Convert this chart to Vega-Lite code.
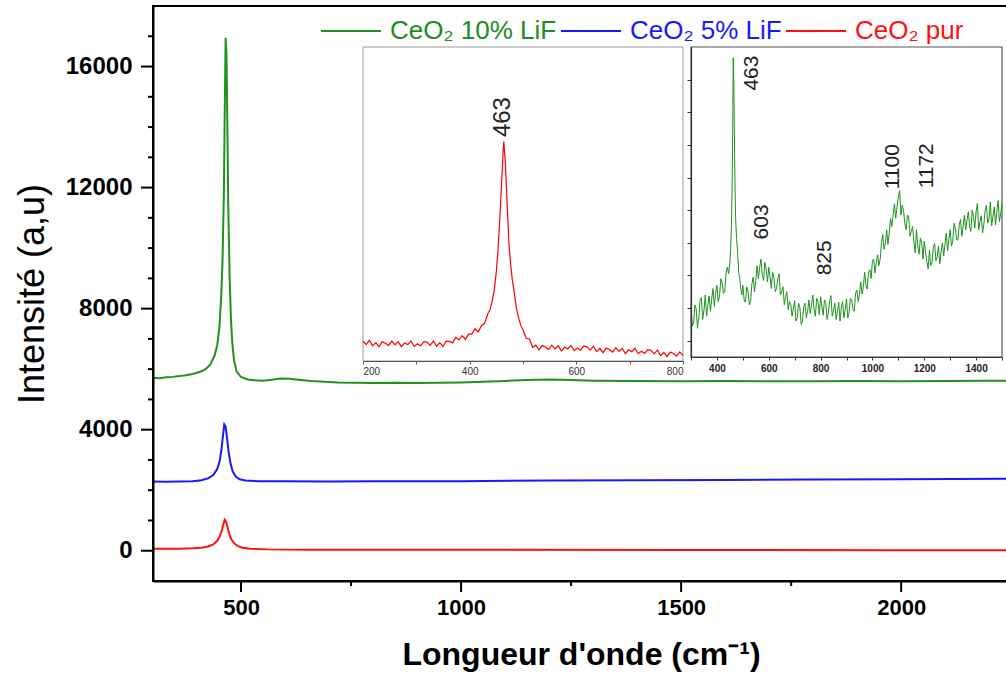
{
  "$schema": "https://vega.github.io/schema/vega-lite/v6.json",
  "width": 856,
  "height": 575,
  "autosize": {"type": "none"},
  "padding": {"left": 153, "top": 6, "right": 0, "bottom": 96},
  "background": "white",
  "config": {
    "font": "Liberation Sans",
    "view": {"stroke": "black", "strokeWidth": 2},
    "axis": {"grid": false}
  },
  "datasets": {
    "main": [
      {"w": 300, "i": 5720, "s": "CeO₂ 10% LiF"}, {"w": 315, "i": 5700, "s": "CeO₂ 10% LiF"}, {"w": 330, "i": 5735, "s": "CeO₂ 10% LiF"}, {"w": 345, "i": 5745, "s": "CeO₂ 10% LiF"}, {"w": 360, "i": 5770, "s": "CeO₂ 10% LiF"}, {"w": 375, "i": 5800, "s": "CeO₂ 10% LiF"}, {"w": 390, "i": 5840, "s": "CeO₂ 10% LiF"}, {"w": 400, "i": 5880, "s": "CeO₂ 10% LiF"}, {"w": 410, "i": 5930, "s": "CeO₂ 10% LiF"}, {"w": 420, "i": 6010, "s": "CeO₂ 10% LiF"}, {"w": 430, "i": 6150, "s": "CeO₂ 10% LiF"}, {"w": 440, "i": 6450, "s": "CeO₂ 10% LiF"}, {"w": 446, "i": 6800, "s": "CeO₂ 10% LiF"}, {"w": 451, "i": 7400, "s": "CeO₂ 10% LiF"}, {"w": 455, "i": 8400, "s": "CeO₂ 10% LiF"}, {"w": 458, "i": 9600, "s": "CeO₂ 10% LiF"}, {"w": 461, "i": 11800, "s": "CeO₂ 10% LiF"}, {"w": 463, "i": 14500, "s": "CeO₂ 10% LiF"}, {"w": 465, "i": 16950, "s": "CeO₂ 10% LiF"}, {"w": 467, "i": 16400, "s": "CeO₂ 10% LiF"}, {"w": 469, "i": 14000, "s": "CeO₂ 10% LiF"}, {"w": 471, "i": 11400, "s": "CeO₂ 10% LiF"}, {"w": 474, "i": 9100, "s": "CeO₂ 10% LiF"}, {"w": 477, "i": 7700, "s": "CeO₂ 10% LiF"}, {"w": 480, "i": 6900, "s": "CeO₂ 10% LiF"}, {"w": 484, "i": 6300, "s": "CeO₂ 10% LiF"}, {"w": 490, "i": 5920, "s": "CeO₂ 10% LiF"}, {"w": 500, "i": 5740, "s": "CeO₂ 10% LiF"}, {"w": 515, "i": 5660, "s": "CeO₂ 10% LiF"}, {"w": 530, "i": 5630, "s": "CeO₂ 10% LiF"}, {"w": 550, "i": 5620, "s": "CeO₂ 10% LiF"}, {"w": 570, "i": 5650, "s": "CeO₂ 10% LiF"}, {"w": 590, "i": 5690, "s": "CeO₂ 10% LiF"}, {"w": 610, "i": 5680, "s": "CeO₂ 10% LiF"}, {"w": 630, "i": 5650, "s": "CeO₂ 10% LiF"}, {"w": 660, "i": 5610, "s": "CeO₂ 10% LiF"}, {"w": 690, "i": 5580, "s": "CeO₂ 10% LiF"}, {"w": 720, "i": 5560, "s": "CeO₂ 10% LiF"}, {"w": 760, "i": 5550, "s": "CeO₂ 10% LiF"}, {"w": 800, "i": 5540, "s": "CeO₂ 10% LiF"}, {"w": 850, "i": 5550, "s": "CeO₂ 10% LiF"}, {"w": 900, "i": 5540, "s": "CeO₂ 10% LiF"}, {"w": 950, "i": 5550, "s": "CeO₂ 10% LiF"}, {"w": 1000, "i": 5560, "s": "CeO₂ 10% LiF"}, {"w": 1050, "i": 5580, "s": "CeO₂ 10% LiF"}, {"w": 1100, "i": 5610, "s": "CeO₂ 10% LiF"}, {"w": 1150, "i": 5640, "s": "CeO₂ 10% LiF"}, {"w": 1200, "i": 5660, "s": "CeO₂ 10% LiF"}, {"w": 1250, "i": 5640, "s": "CeO₂ 10% LiF"}, {"w": 1300, "i": 5620, "s": "CeO₂ 10% LiF"}, {"w": 1400, "i": 5610, "s": "CeO₂ 10% LiF"}, {"w": 1500, "i": 5600, "s": "CeO₂ 10% LiF"}, {"w": 1600, "i": 5610, "s": "CeO₂ 10% LiF"}, {"w": 1700, "i": 5600, "s": "CeO₂ 10% LiF"}, {"w": 1800, "i": 5600, "s": "CeO₂ 10% LiF"}, {"w": 1900, "i": 5610, "s": "CeO₂ 10% LiF"}, {"w": 2000, "i": 5600, "s": "CeO₂ 10% LiF"}, {"w": 2100, "i": 5610, "s": "CeO₂ 10% LiF"}, {"w": 2200, "i": 5620, "s": "CeO₂ 10% LiF"}, {"w": 2245, "i": 5620, "s": "CeO₂ 10% LiF"},
      {"w": 300, "i": 2285, "s": "CeO₂ 5% LiF"}, {"w": 330, "i": 2280, "s": "CeO₂ 5% LiF"}, {"w": 360, "i": 2290, "s": "CeO₂ 5% LiF"}, {"w": 390, "i": 2300, "s": "CeO₂ 5% LiF"}, {"w": 410, "i": 2330, "s": "CeO₂ 5% LiF"}, {"w": 425, "i": 2390, "s": "CeO₂ 5% LiF"}, {"w": 437, "i": 2500, "s": "CeO₂ 5% LiF"}, {"w": 446, "i": 2700, "s": "CeO₂ 5% LiF"}, {"w": 452, "i": 3000, "s": "CeO₂ 5% LiF"}, {"w": 456, "i": 3400, "s": "CeO₂ 5% LiF"}, {"w": 459, "i": 3800, "s": "CeO₂ 5% LiF"}, {"w": 462, "i": 4170, "s": "CeO₂ 5% LiF"}, {"w": 465, "i": 4100, "s": "CeO₂ 5% LiF"}, {"w": 468, "i": 3750, "s": "CeO₂ 5% LiF"}, {"w": 472, "i": 3250, "s": "CeO₂ 5% LiF"}, {"w": 476, "i": 2900, "s": "CeO₂ 5% LiF"}, {"w": 481, "i": 2620, "s": "CeO₂ 5% LiF"}, {"w": 488, "i": 2450, "s": "CeO₂ 5% LiF"}, {"w": 497, "i": 2360, "s": "CeO₂ 5% LiF"}, {"w": 510, "i": 2320, "s": "CeO₂ 5% LiF"}, {"w": 540, "i": 2300, "s": "CeO₂ 5% LiF"}, {"w": 600, "i": 2295, "s": "CeO₂ 5% LiF"}, {"w": 700, "i": 2290, "s": "CeO₂ 5% LiF"}, {"w": 800, "i": 2295, "s": "CeO₂ 5% LiF"}, {"w": 1000, "i": 2300, "s": "CeO₂ 5% LiF"}, {"w": 1200, "i": 2320, "s": "CeO₂ 5% LiF"}, {"w": 1400, "i": 2330, "s": "CeO₂ 5% LiF"}, {"w": 1600, "i": 2340, "s": "CeO₂ 5% LiF"}, {"w": 1800, "i": 2350, "s": "CeO₂ 5% LiF"}, {"w": 2000, "i": 2360, "s": "CeO₂ 5% LiF"}, {"w": 2245, "i": 2375, "s": "CeO₂ 5% LiF"},
      {"w": 300, "i": 66, "s": "CeO₂ pur"}, {"w": 330, "i": 62, "s": "CeO₂ pur"}, {"w": 360, "i": 68, "s": "CeO₂ pur"}, {"w": 390, "i": 80, "s": "CeO₂ pur"}, {"w": 410, "i": 100, "s": "CeO₂ pur"}, {"w": 425, "i": 140, "s": "CeO₂ pur"}, {"w": 437, "i": 210, "s": "CeO₂ pur"}, {"w": 446, "i": 330, "s": "CeO₂ pur"}, {"w": 452, "i": 480, "s": "CeO₂ pur"}, {"w": 457, "i": 700, "s": "CeO₂ pur"}, {"w": 460, "i": 880, "s": "CeO₂ pur"}, {"w": 463, "i": 1025, "s": "CeO₂ pur"}, {"w": 466, "i": 960, "s": "CeO₂ pur"}, {"w": 469, "i": 800, "s": "CeO₂ pur"}, {"w": 473, "i": 560, "s": "CeO₂ pur"}, {"w": 478, "i": 380, "s": "CeO₂ pur"}, {"w": 484, "i": 250, "s": "CeO₂ pur"}, {"w": 492, "i": 160, "s": "CeO₂ pur"}, {"w": 503, "i": 100, "s": "CeO₂ pur"}, {"w": 520, "i": 65, "s": "CeO₂ pur"}, {"w": 560, "i": 45, "s": "CeO₂ pur"}, {"w": 650, "i": 35, "s": "CeO₂ pur"}, {"w": 800, "i": 30, "s": "CeO₂ pur"}, {"w": 1000, "i": 30, "s": "CeO₂ pur"}, {"w": 1500, "i": 25, "s": "CeO₂ pur"}, {"w": 2000, "i": 20, "s": "CeO₂ pur"}, {"w": 2245, "i": 20, "s": "CeO₂ pur"}
    ],
    "inset1": [
      {"w": 200, "v": 65}, {"w": 206, "v": 49}, {"w": 212, "v": 69}, {"w": 218, "v": 43}, {"w": 224, "v": 58}, {"w": 230, "v": 39}, {"w": 236, "v": 62}, {"w": 242, "v": 55}, {"w": 248, "v": 44}, {"w": 254, "v": 66}, {"w": 260, "v": 48}, {"w": 266, "v": 63}, {"w": 272, "v": 39}, {"w": 278, "v": 57}, {"w": 284, "v": 49}, {"w": 290, "v": 66}, {"w": 296, "v": 40}, {"w": 302, "v": 53}, {"w": 308, "v": 43}, {"w": 314, "v": 63}, {"w": 320, "v": 61}, {"w": 326, "v": 45}, {"w": 332, "v": 66}, {"w": 338, "v": 41}, {"w": 344, "v": 58}, {"w": 350, "v": 40}, {"w": 356, "v": 66}, {"w": 362, "v": 64}, {"w": 368, "v": 57}, {"w": 374, "v": 83}, {"w": 380, "v": 71}, {"w": 386, "v": 92}, {"w": 392, "v": 74}, {"w": 398, "v": 99}, {"w": 404, "v": 99}, {"w": 410, "v": 125}, {"w": 416, "v": 110}, {"w": 422, "v": 140}, {"w": 428, "v": 151}, {"w": 434, "v": 197}, {"w": 438, "v": 215}, {"w": 442, "v": 255}, {"w": 446, "v": 310}, {"w": 450, "v": 400}, {"w": 453, "v": 500}, {"w": 456, "v": 630}, {"w": 459, "v": 780}, {"w": 461, "v": 880}, {"w": 463, "v": 990}, {"w": 464, "v": 1025}, {"w": 465, "v": 990}, {"w": 467, "v": 920}, {"w": 469, "v": 800}, {"w": 471, "v": 680}, {"w": 474, "v": 520}, {"w": 477, "v": 430}, {"w": 480, "v": 360}, {"w": 484, "v": 290}, {"w": 488, "v": 220}, {"w": 492, "v": 175}, {"w": 496, "v": 140}, {"w": 500, "v": 120}, {"w": 506, "v": 79}, {"w": 512, "v": 76}, {"w": 518, "v": 36}, {"w": 524, "v": 46}, {"w": 530, "v": 23}, {"w": 536, "v": 44}, {"w": 542, "v": 37}, {"w": 548, "v": 25}, {"w": 554, "v": 46}, {"w": 560, "v": 28}, {"w": 566, "v": 43}, {"w": 572, "v": 18}, {"w": 578, "v": 37}, {"w": 584, "v": 28}, {"w": 590, "v": 45}, {"w": 596, "v": 20}, {"w": 602, "v": 33}, {"w": 608, "v": 22}, {"w": 614, "v": 41}, {"w": 620, "v": 38}, {"w": 626, "v": 22}, {"w": 632, "v": 41}, {"w": 638, "v": 15}, {"w": 644, "v": 30}, {"w": 650, "v": 10}, {"w": 656, "v": 32}, {"w": 662, "v": 25}, {"w": 668, "v": 13}, {"w": 674, "v": 34}, {"w": 680, "v": 16}, {"w": 686, "v": 30}, {"w": 692, "v": 5}, {"w": 698, "v": 24}, {"w": 704, "v": 15}, {"w": 710, "v": 31}, {"w": 716, "v": 5}, {"w": 722, "v": 17}, {"w": 728, "v": 6}, {"w": 734, "v": 24}, {"w": 740, "v": 21}, {"w": 746, "v": 4}, {"w": 752, "v": 23}, {"w": 758, "v": -4}, {"w": 764, "v": 11}, {"w": 770, "v": -9}, {"w": 776, "v": 13}, {"w": 782, "v": 6}, {"w": 788, "v": -7}, {"w": 794, "v": 14}, {"w": 800, "v": -4}
    ],
    "inset2": [
      {"w": 300, "v": 10.5}, {"w": 305, "v": 4.5}, {"w": 310, "v": 5.3}, {"w": 315, "v": 11}, {"w": 320, "v": 9.7}, {"w": 325, "v": 3.8}, {"w": 330, "v": 7}, {"w": 335, "v": 12.5}, {"w": 340, "v": 13.2}, {"w": 345, "v": 6.5}, {"w": 350, "v": 9.3}, {"w": 355, "v": 14}, {"w": 360, "v": 7.5}, {"w": 365, "v": 10.8}, {"w": 370, "v": 13.7}, {"w": 375, "v": 9}, {"w": 380, "v": 12.8}, {"w": 385, "v": 16}, {"w": 390, "v": 10.5}, {"w": 395, "v": 14.5}, {"w": 400, "v": 17}, {"w": 405, "v": 12}, {"w": 410, "v": 13.5}, {"w": 415, "v": 19}, {"w": 420, "v": 18}, {"w": 425, "v": 14.5}, {"w": 430, "v": 15}, {"w": 435, "v": 20.5}, {"w": 440, "v": 22.5}, {"w": 445, "v": 20.5}, {"w": 450, "v": 24}, {"w": 453, "v": 28}, {"w": 456, "v": 35}, {"w": 459, "v": 50}, {"w": 461, "v": 65}, {"w": 463, "v": 86.7}, {"w": 465, "v": 80}, {"w": 467, "v": 66}, {"w": 469, "v": 52}, {"w": 472, "v": 38}, {"w": 476, "v": 31}, {"w": 480, "v": 27}, {"w": 484, "v": 21}, {"w": 488, "v": 19}, {"w": 492, "v": 16}, {"w": 496, "v": 14},
      {"w": 500, "v": 17}, {"w": 505, "v": 12.5}, {"w": 510, "v": 11.8}, {"w": 515, "v": 16.5}, {"w": 520, "v": 15.2}, {"w": 525, "v": 11}, {"w": 530, "v": 12}, {"w": 535, "v": 17.5}, {"w": 540, "v": 19.5}, {"w": 545, "v": 15}, {"w": 550, "v": 18.5}, {"w": 555, "v": 23}, {"w": 560, "v": 19}, {"w": 565, "v": 22.5}, {"w": 570, "v": 25}, {"w": 575, "v": 20}, {"w": 580, "v": 18.5}, {"w": 585, "v": 24}, {"w": 590, "v": 22}, {"w": 595, "v": 18}, {"w": 600, "v": 22.5}, {"w": 605, "v": 19.5}, {"w": 610, "v": 16}, {"w": 615, "v": 21}, {"w": 620, "v": 19.5}, {"w": 625, "v": 15}, {"w": 630, "v": 16}, {"w": 635, "v": 19}, {"w": 640, "v": 20.5}, {"w": 645, "v": 14}, {"w": 650, "v": 15}, {"w": 655, "v": 16.5}, {"w": 660, "v": 11}, {"w": 665, "v": 13.5}, {"w": 670, "v": 15}, {"w": 675, "v": 9.5}, {"w": 680, "v": 12}, {"w": 685, "v": 11}, {"w": 690, "v": 7.5}, {"w": 695, "v": 10}, {"w": 700, "v": 12.2}, {"w": 705, "v": 6}, {"w": 710, "v": 7}, {"w": 715, "v": 11.5}, {"w": 720, "v": 10.2}, {"w": 725, "v": 5}, {"w": 730, "v": 5.8}, {"w": 735, "v": 10.5}, {"w": 740, "v": 11.5}, {"w": 745, "v": 7}, {"w": 750, "v": 9.2}, {"w": 755, "v": 12.5}, {"w": 760, "v": 8.3}, {"w": 765, "v": 11}, {"w": 770, "v": 14}, {"w": 775, "v": 9.5}, {"w": 780, "v": 7.5}, {"w": 785, "v": 13}, {"w": 790, "v": 12}, {"w": 795, "v": 8}, {"w": 800, "v": 13.5}, {"w": 805, "v": 10.5}, {"w": 810, "v": 7.8}, {"w": 815, "v": 12.5}, {"w": 820, "v": 11.7}, {"w": 825, "v": 6.5}, {"w": 830, "v": 8.5}, {"w": 835, "v": 12}, {"w": 840, "v": 13.8}, {"w": 845, "v": 7.5}, {"w": 850, "v": 9.2}, {"w": 855, "v": 11.5}, {"w": 860, "v": 6.5}, {"w": 865, "v": 9}, {"w": 870, "v": 11.8}, {"w": 875, "v": 6}, {"w": 880, "v": 10.2}, {"w": 885, "v": 12}, {"w": 890, "v": 7}, {"w": 895, "v": 9.5}, {"w": 900, "v": 12.8}, {"w": 905, "v": 7}, {"w": 910, "v": 8.5}, {"w": 915, "v": 13}, {"w": 920, "v": 12.5}, {"w": 925, "v": 9.5}, {"w": 930, "v": 9}, {"w": 935, "v": 14.5}, {"w": 940, "v": 15.5}, {"w": 945, "v": 12}, {"w": 950, "v": 14.2}, {"w": 955, "v": 18}, {"w": 960, "v": 14.3}, {"w": 965, "v": 16.5}, {"w": 970, "v": 21}, {"w": 975, "v": 17}, {"w": 980, "v": 15.8}, {"w": 985, "v": 21}, {"w": 990, "v": 21.7}, {"w": 995, "v": 19}, {"w": 1000, "v": 24.5}, {"w": 1005, "v": 25}, {"w": 1010, "v": 20.7}, {"w": 1015, "v": 24}, {"w": 1020, "v": 26.3}, {"w": 1025, "v": 23}, {"w": 1030, "v": 25}, {"w": 1035, "v": 30}, {"w": 1040, "v": 32.5}, {"w": 1045, "v": 28}, {"w": 1050, "v": 30}, {"w": 1055, "v": 34}, {"w": 1060, "v": 29.5}, {"w": 1065, "v": 33}, {"w": 1070, "v": 37.5}, {"w": 1075, "v": 35}, {"w": 1080, "v": 38.5}, {"w": 1085, "v": 42}, {"w": 1090, "v": 37.5}, {"w": 1095, "v": 41}, {"w": 1100, "v": 44}, {"w": 1105, "v": 46}, {"w": 1110, "v": 38.5}, {"w": 1115, "v": 41.5}, {"w": 1120, "v": 40}, {"w": 1125, "v": 36}, {"w": 1130, "v": 34}, {"w": 1135, "v": 38.5}, {"w": 1140, "v": 38}, {"w": 1145, "v": 32}, {"w": 1150, "v": 33.5}, {"w": 1155, "v": 35}, {"w": 1160, "v": 30.5}, {"w": 1165, "v": 27}, {"w": 1170, "v": 34}, {"w": 1175, "v": 29}, {"w": 1180, "v": 26.5}, {"w": 1185, "v": 31.5}, {"w": 1190, "v": 30}, {"w": 1195, "v": 25}, {"w": 1200, "v": 30.5}, {"w": 1205, "v": 27}, {"w": 1210, "v": 24.3}, {"w": 1215, "v": 22}, {"w": 1220, "v": 27.7}, {"w": 1225, "v": 23}, {"w": 1230, "v": 24}, {"w": 1235, "v": 28.5}, {"w": 1240, "v": 29.8}, {"w": 1245, "v": 24.5}, {"w": 1250, "v": 25.7}, {"w": 1255, "v": 29}, {"w": 1260, "v": 23.5}, {"w": 1265, "v": 27}, {"w": 1270, "v": 30}, {"w": 1275, "v": 26}, {"w": 1280, "v": 29.5}, {"w": 1285, "v": 33}, {"w": 1290, "v": 27.5}, {"w": 1295, "v": 31}, {"w": 1300, "v": 34}, {"w": 1305, "v": 29}, {"w": 1310, "v": 30.5}, {"w": 1315, "v": 36}, {"w": 1320, "v": 34.5}, {"w": 1325, "v": 31}, {"w": 1330, "v": 30.8}, {"w": 1335, "v": 35.5}, {"w": 1340, "v": 37.2}, {"w": 1345, "v": 32}, {"w": 1350, "v": 35}, {"w": 1355, "v": 38.5}, {"w": 1360, "v": 34}, {"w": 1365, "v": 37}, {"w": 1370, "v": 39.5}, {"w": 1375, "v": 35}, {"w": 1380, "v": 33.5}, {"w": 1385, "v": 40}, {"w": 1390, "v": 38}, {"w": 1395, "v": 34.5}, {"w": 1400, "v": 39.5}, {"w": 1405, "v": 42}, {"w": 1410, "v": 34}, {"w": 1415, "v": 36.5}, {"w": 1420, "v": 38.3}, {"w": 1425, "v": 33}, {"w": 1430, "v": 35.7}, {"w": 1435, "v": 40}, {"w": 1440, "v": 41.5}, {"w": 1445, "v": 36}, {"w": 1450, "v": 37.3}, {"w": 1455, "v": 42.5}, {"w": 1460, "v": 35.2}, {"w": 1465, "v": 38}, {"w": 1470, "v": 41}, {"w": 1475, "v": 35.5}, {"w": 1480, "v": 39.5}, {"w": 1485, "v": 43}, {"w": 1490, "v": 36.5}, {"w": 1495, "v": 39}, {"w": 1500, "v": 42}
    ],
    "xMajor": [{"t": 500}, {"t": 1000}, {"t": 1500}, {"t": 2000}],
    "xMinor": [{"t": 750}, {"t": 1250}, {"t": 1750}],
    "yMajor": [{"t": 0}, {"t": 4000}, {"t": 8000}, {"t": 12000}, {"t": 16000}],
    "yMinor": [{"t": 1000}, {"t": 2000}, {"t": 3000}, {"t": 5000}, {"t": 6000}, {"t": 7000}, {"t": 9000}, {"t": 10000}, {"t": 11000}, {"t": 13000}, {"t": 14000}, {"t": 15000}, {"t": 17000}]
  },
  "layer": [
    {
      "data": {"name": "main"},
      "mark": {"type": "line", "strokeWidth": 2},
      "encoding": {
        "x": {
          "field": "w", "type": "quantitative",
          "scale": {"domain": [300, 2245], "nice": false, "zero": false},
          "axis": {
            "orient": "bottom", "zindex": 1,
            "title": "Longueur d'onde (cm⁻¹)",
            "values": [500, 1000, 1500, 2000],
            "format": "d",
            "ticks": false,
            "domainColor": "black", "domainWidth": 2,
            "labelFont": "Liberation Sans", "labelFontSize": 22, "labelFontWeight": "bold", "labelColor": "black", "labelPadding": 16,
            "titleFont": "Liberation Sans", "titleFontSize": 32, "titleFontWeight": "bold", "titleColor": "black", "titlePadding": 21
          }
        },
        "y": {
          "field": "i", "type": "quantitative",
          "scale": {"domain": [-1000, 18000], "nice": false, "zero": false},
          "axis": {
            "orient": "left", "zindex": 1,
            "title": "Intensité (a,u)",
            "values": [0, 4000, 8000, 12000, 16000],
            "format": "d",
            "ticks": false,
            "domainColor": "black", "domainWidth": 2,
            "labelFont": "Liberation Sans", "labelFontSize": 24, "labelFontWeight": "bold", "labelColor": "black", "labelPadding": 21,
            "titleFont": "Liberation Sans", "titleFontSize": 36, "titleFontWeight": "normal", "titleColor": "black", "titlePadding": 14
          }
        },
        "color": {
          "field": "s", "type": "nominal",
          "scale": {"domain": ["CeO₂ 10% LiF", "CeO₂ 5% LiF", "CeO₂ pur"], "range": ["#1e931e", "#1818ff", "#ff1010"]},
          "legend": {
            "orient": "none", "legendX": 167, "legendY": -6,
            "direction": "horizontal", "title": null, "padding": 0,
            "symbolType": "stroke", "symbolSize": 3600, "symbolStrokeWidth": 2,
            "labelFont": "Liberation Sans", "labelFontSize": 26, "labelOffset": 8, "labelLimit": 400,
            "labelColor": {"expr": "datum.value === 'CeO₂ pur' ? '#ff1010' : (datum.value === 'CeO₂ 5% LiF' ? '#1818ff' : '#1e8c1e')"},
            "columnPadding": 0
          }
        }
      }
    },
    {
      "data": {"name": "xMajor"},
      "mark": {"type": "rule", "color": "black", "strokeWidth": 2, "y2Offset": 11},
      "encoding": {
        "x": {"field": "t", "type": "quantitative", "scale": {"domain": [300, 2245], "nice": false, "zero": false}, "axis": null},
        "y": {"datum": -1000, "type": "quantitative", "scale": {"domain": [-1000, 18000], "nice": false, "zero": false}, "axis": null},
        "y2": {"datum": -1000}
      }
    },
    {
      "data": {"name": "xMinor"},
      "mark": {"type": "rule", "color": "black", "strokeWidth": 2, "y2Offset": 5},
      "encoding": {
        "x": {"field": "t", "type": "quantitative", "scale": {"domain": [300, 2245], "nice": false, "zero": false}, "axis": null},
        "y": {"datum": -1000, "type": "quantitative", "scale": {"domain": [-1000, 18000], "nice": false, "zero": false}, "axis": null},
        "y2": {"datum": -1000}
      }
    },
    {
      "data": {"name": "yMajor"},
      "mark": {"type": "rule", "color": "black", "strokeWidth": 2, "x2Offset": -12},
      "encoding": {
        "y": {"field": "t", "type": "quantitative", "scale": {"domain": [-1000, 18000], "nice": false, "zero": false}, "axis": null},
        "x": {"datum": 300, "type": "quantitative", "scale": {"domain": [300, 2245], "nice": false, "zero": false}, "axis": null},
        "x2": {"datum": 300}
      }
    },
    {
      "data": {"name": "yMinor"},
      "mark": {"type": "rule", "color": "black", "strokeWidth": 2, "x2Offset": -5},
      "encoding": {
        "y": {"field": "t", "type": "quantitative", "scale": {"domain": [-1000, 18000], "nice": false, "zero": false}, "axis": null},
        "x": {"datum": 300, "type": "quantitative", "scale": {"domain": [300, 2245], "nice": false, "zero": false}, "axis": null},
        "x2": {"datum": 300}
      }
    },
    {
      "data": {"values": [{"x1": 200, "x2": 800, "y1": -30, "y2": 1480}]},
      "mark": {"type": "rect", "fill": "white", "stroke": "#9a9a9a", "strokeWidth": 1},
      "encoding": {
        "x": {
          "field": "x1", "type": "quantitative",
          "scale": {"domain": [200, 800], "range": [210, 530], "nice": false, "zero": false},
          "axis": {
            "orient": "bottom", "offset": -220, "title": null, "zindex": 1,
            "values": [200, 300, 400, 500, 600, 700, 800],
            "labelExpr": "datum.value % 200 === 0 ? datum.label : ''",
            "tickSize": 3, "tickColor": "#555", "tickWidth": 1,
            "domainColor": "#555", "domainWidth": 1,
            "labelFont": "Liberation Sans", "labelFontSize": 10, "labelColor": "#333", "labelPadding": 2
          }
        },
        "x2": {"field": "x2"},
        "y": {
          "field": "y1", "type": "quantitative",
          "scale": {"domain": [-30, 1480], "range": [355, 41], "nice": false, "zero": false},
          "axis": null
        },
        "y2": {"field": "y2"}
      }
    },
    {
      "data": {"name": "inset1"},
      "mark": {"type": "line", "color": "#ff0000", "strokeWidth": 1.2},
      "encoding": {
        "x": {"field": "w", "type": "quantitative", "scale": {"domain": [200, 800], "range": [210, 530], "nice": false, "zero": false}, "axis": null},
        "y": {"field": "v", "type": "quantitative", "scale": {"domain": [-30, 1480], "range": [355, 41], "nice": false, "zero": false}, "axis": null}
      }
    },
    {
      "data": {"values": [{"w": 462, "v": 1143, "label": "463"}]},
      "mark": {"type": "text", "angle": 270, "fontSize": 24, "font": "Liberation Sans", "color": "#222", "align": "center", "baseline": "middle"},
      "encoding": {
        "x": {"field": "w", "type": "quantitative", "scale": {"domain": [200, 800], "range": [210, 530], "nice": false, "zero": false}, "axis": null},
        "y": {"field": "v", "type": "quantitative", "scale": {"domain": [-30, 1480], "range": [355, 41], "nice": false, "zero": false}, "axis": null},
        "text": {"field": "label"}
      }
    },
    {
      "data": {"values": [{"x1": 300, "x2": 1500, "y1": -5, "y2": 90}]},
      "mark": {"type": "rect", "fill": "white", "stroke": "#555", "strokeWidth": 1.2},
      "encoding": {
        "x": {
          "field": "x1", "type": "quantitative",
          "scale": {"domain": [300, 1500], "range": [538, 849], "nice": false, "zero": false},
          "axis": {
            "orient": "bottom", "offset": -224, "title": null, "zindex": 1,
            "values": [300, 400, 500, 600, 700, 800, 900, 1000, 1100, 1200, 1300, 1400, 1500],
            "labelExpr": "(datum.value % 200 === 0 && datum.value < 1500 && datum.value > 300) ? datum.label : ''",
            "format": "d",
            "tickSize": 3, "tickColor": "#333", "tickWidth": 1,
            "domainColor": "#333", "domainWidth": 1.2,
            "labelFont": "Liberation Sans", "labelFontSize": 10, "labelFontWeight": "bold", "labelColor": "#222", "labelPadding": 3
          }
        },
        "x2": {"field": "x2"},
        "y": {
          "field": "y1", "type": "quantitative",
          "scale": {"domain": [-5, 90], "range": [351, 41], "nice": false, "zero": false},
          "axis": {
            "orient": "left", "offset": -538, "title": null, "zindex": 1,
            "values": [0, 10, 20, 30, 40, 50, 60, 70, 80],
            "labels": false,
            "tickSize": 4, "tickColor": "#333", "tickWidth": 1,
            "domainColor": "#333", "domainWidth": 1.2
          }
        },
        "y2": {"field": "y2"}
      }
    },
    {
      "data": {"name": "inset2"},
      "mark": {"type": "line", "color": "#1e931e", "strokeWidth": 1},
      "encoding": {
        "x": {"field": "w", "type": "quantitative", "scale": {"domain": [300, 1500], "range": [538, 849], "nice": false, "zero": false}, "axis": null},
        "y": {"field": "v", "type": "quantitative", "scale": {"domain": [-5, 90], "range": [351, 41], "nice": false, "zero": false}, "axis": null}
      }
    },
    {
      "data": {"values": [
        {"w": 535, "v": 82, "label": "463"},
        {"w": 574, "v": 36.4, "label": "603"},
        {"w": 817, "v": 25.4, "label": "825"},
        {"w": 1079, "v": 53.3, "label": "1100"},
        {"w": 1210, "v": 53.6, "label": "1172"}
      ]},
      "mark": {"type": "text", "angle": 270, "fontSize": 21, "font": "Liberation Sans", "color": "#222", "align": "center", "baseline": "middle"},
      "encoding": {
        "x": {"field": "w", "type": "quantitative", "scale": {"domain": [300, 1500], "range": [538, 849], "nice": false, "zero": false}, "axis": null},
        "y": {"field": "v", "type": "quantitative", "scale": {"domain": [-5, 90], "range": [351, 41], "nice": false, "zero": false}, "axis": null},
        "text": {"field": "label"}
      }
    }
  ],
  "resolve": {"scale": {"x": "independent", "y": "independent"}}
}
